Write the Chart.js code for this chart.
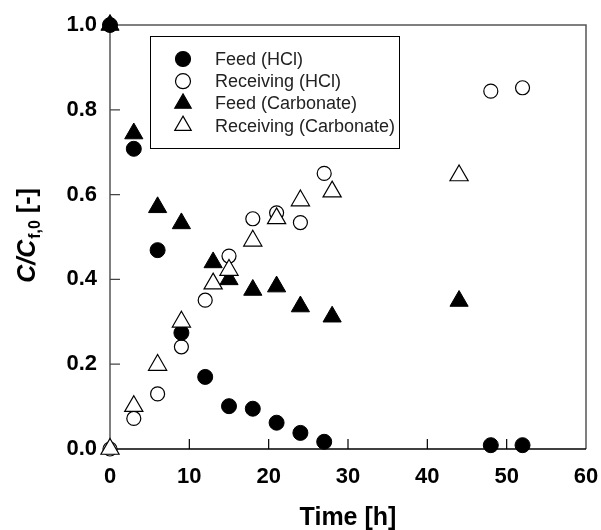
<!DOCTYPE html>
<html>
<head>
<meta charset="utf-8">
<script src="https://cdn.jsdelivr.net/npm/chart.js@4.4.0/dist/chart.umd.min.js"></script>
<style>
  html, body { margin: 0; padding: 0; background: #fff; }
  #wrap { width: 601px; height: 530px; }
</style>
</head>
<body>
<div id="wrap"><canvas id="chart"></canvas></div>
<script>
// sampling times [h]
const timeHcl = [0, 3, 6, 9, 12, 15, 18, 21, 24, 27, 48, 52];
const timeCarb = [0, 3, 6, 9, 13, 15, 18, 21, 24, 28, 44];

// C/Cf,0 values
const feedHcl = [1.0, 0.708, 0.469, 0.274, 0.170, 0.101, 0.095, 0.062, 0.038, 0.017, 0.009, 0.009];
const recvHcl = [0.0, 0.072, 0.130, 0.241, 0.351, 0.455, 0.543, 0.557, 0.534, 0.650, 0.844, 0.852];
const feedCarb = [1.0, 0.744, 0.570, 0.532, 0.440, 0.400, 0.375, 0.383, 0.336, 0.312, 0.349];
const recvCarb = [0.0, 0.101, 0.198, 0.300, 0.390, 0.422, 0.491, 0.544, 0.586, 0.607, 0.645];

const seriesLabels = ["Feed (HCl)", "Receiving (HCl)", "Feed (Carbonate)", "Receiving (Carbonate)"];

// axis ticks
const xTicks = [0, 10, 20, 30, 40, 50, 60];
const yTicks = [0.0, 0.2, 0.4, 0.6, 0.8, 1.0];

const FONT = "'Liberation Sans', Arial, Helvetica, sans-serif";
Chart.defaults.font.family = FONT;
Chart.defaults.color = "#000";

const pts = (xs, ys) => xs.map((x, i) => ({ x: x, y: ys[i] }));

function marker(ctx, style, filled, r, x, y) {
  ctx.beginPath();
  if (style === "triangle") {
    ctx.moveTo(x, y - r);
    ctx.lineTo(x + r * Math.sin(Math.PI / 3), y + r / 2);
    ctx.lineTo(x - r * Math.sin(Math.PI / 3), y + r / 2);
    ctx.closePath();
  } else {
    ctx.arc(x, y, r, 0, Math.PI * 2);
  }
  ctx.fillStyle = filled ? "#000" : "#fff";
  ctx.fill();
  ctx.lineWidth = 1.2;
  ctx.strokeStyle = "#000";
  ctx.stroke();
}

// frame + inward tick marks
const framePlugin = {
  id: "frame",
  beforeDatasetsDraw(chart) {
    const { ctx, chartArea: a, scales } = chart;
    ctx.save();
    ctx.lineWidth = 1.5;
    ctx.strokeStyle = "#555";
    ctx.beginPath();
    ctx.moveTo(a.left, a.bottom);
    ctx.lineTo(a.left, a.top);
    ctx.lineTo(a.right, a.top);
    ctx.lineTo(a.right, a.bottom);
    ctx.stroke();
    ctx.strokeStyle = "#000";
    ctx.beginPath();
    ctx.moveTo(a.left, a.bottom);
    ctx.lineTo(a.right, a.bottom);
    ctx.stroke();

    ctx.lineWidth = 1.2;
    ctx.beginPath();
    xTicks.slice(1, -1).forEach(v => {
      const px = scales.x.getPixelForValue(v);
      ctx.moveTo(px, a.bottom);
      ctx.lineTo(px, a.bottom - 10);
    });
    ctx.stroke();
    ctx.strokeStyle = "#444";
    ctx.beginPath();
    yTicks.slice(1, -1).forEach(v => {
      const py = scales.y.getPixelForValue(v);
      ctx.moveTo(a.left, py);
      ctx.lineTo(a.left + 10, py);
    });
    ctx.stroke();
    ctx.restore();
  },
  afterDraw(chart) {
    const { ctx, chartArea: a } = chart;
    ctx.save();
    // legend box
    const bx = a.left + 40, by = a.top + 11, bw = 249, bh = 112;
    ctx.lineWidth = 1;
    ctx.strokeStyle = "#000";
    ctx.strokeRect(bx + 0.5, by + 0.5, bw, bh);
    ctx.font = "18px " + FONT;
    ctx.textBaseline = "middle";
    ctx.fillStyle = "#222";
    chart.data.datasets.forEach((ds, i) => {
      const y = by + 23 + i * 22.2;
      const r = ds.pointStyle === "triangle" ? 9.5 : 7.5;
      marker(ctx, ds.pointStyle, ds.backgroundColor === "#000", r, bx + 33, y);
      ctx.fillStyle = "#222";
      ctx.fillText(ds.label, bx + 65, y + 1);
    });

    // y axis title: C/C_f,0 [-]
    ctx.translate(35, 236);
    ctx.rotate(-Math.PI / 2);
    ctx.fillStyle = "#000";
    ctx.textBaseline = "alphabetic";
    const big = "bold 25px " + FONT, bigIt = "italic bold 25px " + FONT, sub = "bold 16px " + FONT;
    ctx.font = bigIt; const w1 = ctx.measureText("C/C").width;
    ctx.font = sub; const w2 = ctx.measureText("f,0").width;
    ctx.font = big; const w3 = ctx.measureText(" [-]").width;
    let x0 = -(w1 + w2 + w3) / 2;
    ctx.font = bigIt; ctx.fillText("C/C", x0, 0); x0 += w1 + 1;
    ctx.font = sub; ctx.fillText("f,0", x0, 5); x0 += w2;
    ctx.font = big; ctx.fillText(" [-]", x0, 0);
    ctx.restore();
  }
};

new Chart(document.getElementById("chart"), {
  type: "scatter",
  data: {
    datasets: [
      { label: seriesLabels[0], data: pts(timeHcl, feedHcl), pointStyle: "circle", radius: 7.5,
        backgroundColor: "#000", borderColor: "#000", borderWidth: 1, order: 2, clip: false },
      { label: seriesLabels[1], data: pts(timeHcl, recvHcl), pointStyle: "circle", radius: 7,
        backgroundColor: "#fff", borderColor: "#000", borderWidth: 1.2, order: 3, clip: false },
      { label: seriesLabels[2], data: pts(timeCarb, feedCarb), pointStyle: "triangle", radius: 10.5,
        backgroundColor: "#000", borderColor: "#000", borderWidth: 1, order: 4, clip: false },
      { label: seriesLabels[3], data: pts(timeCarb, recvCarb), pointStyle: "triangle", radius: 10.5,
        backgroundColor: "#fff", borderColor: "#000", borderWidth: 1.2, order: 1, clip: false }
    ]
  },
  options: {
    responsive: true,
    maintainAspectRatio: false,
    animation: false,
    events: [],
    layout: { padding: { top: 25, right: 15, bottom: 0, left: 0 } },
    plugins: { legend: { display: false }, tooltip: { enabled: false } },
    scales: {
      x: {
        type: "linear", min: 0, max: 60,
        afterBuildTicks: s => { s.ticks = xTicks.map(v => ({ value: v })); },
        afterFit: s => { s.height = 81; s.paddingLeft = 0; s.paddingRight = 0; },
        grid: { display: false, drawTicks: false },
        border: { display: false },
        ticks: { padding: 15, font: { size: 22, weight: "bold" }, maxRotation: 0 },
        title: { display: true, text: "Time [h]", font: { size: 25, weight: "bold" }, padding: { top: 0, bottom: -3 } }
      },
      y: {
        type: "linear", min: 0, max: 1,
        afterBuildTicks: s => { s.ticks = yTicks.map(v => ({ value: v })); },
        afterFit: s => { s.width = 110; s.paddingTop = 0; s.paddingBottom = 0; },
        grid: { display: false, drawTicks: false },
        border: { display: false },
        ticks: { padding: 13, font: { size: 22, weight: "bold" }, callback: v => Number(v).toFixed(1) }
      }
    }
  },
  plugins: [framePlugin]
});
</script>
</body>
</html>
